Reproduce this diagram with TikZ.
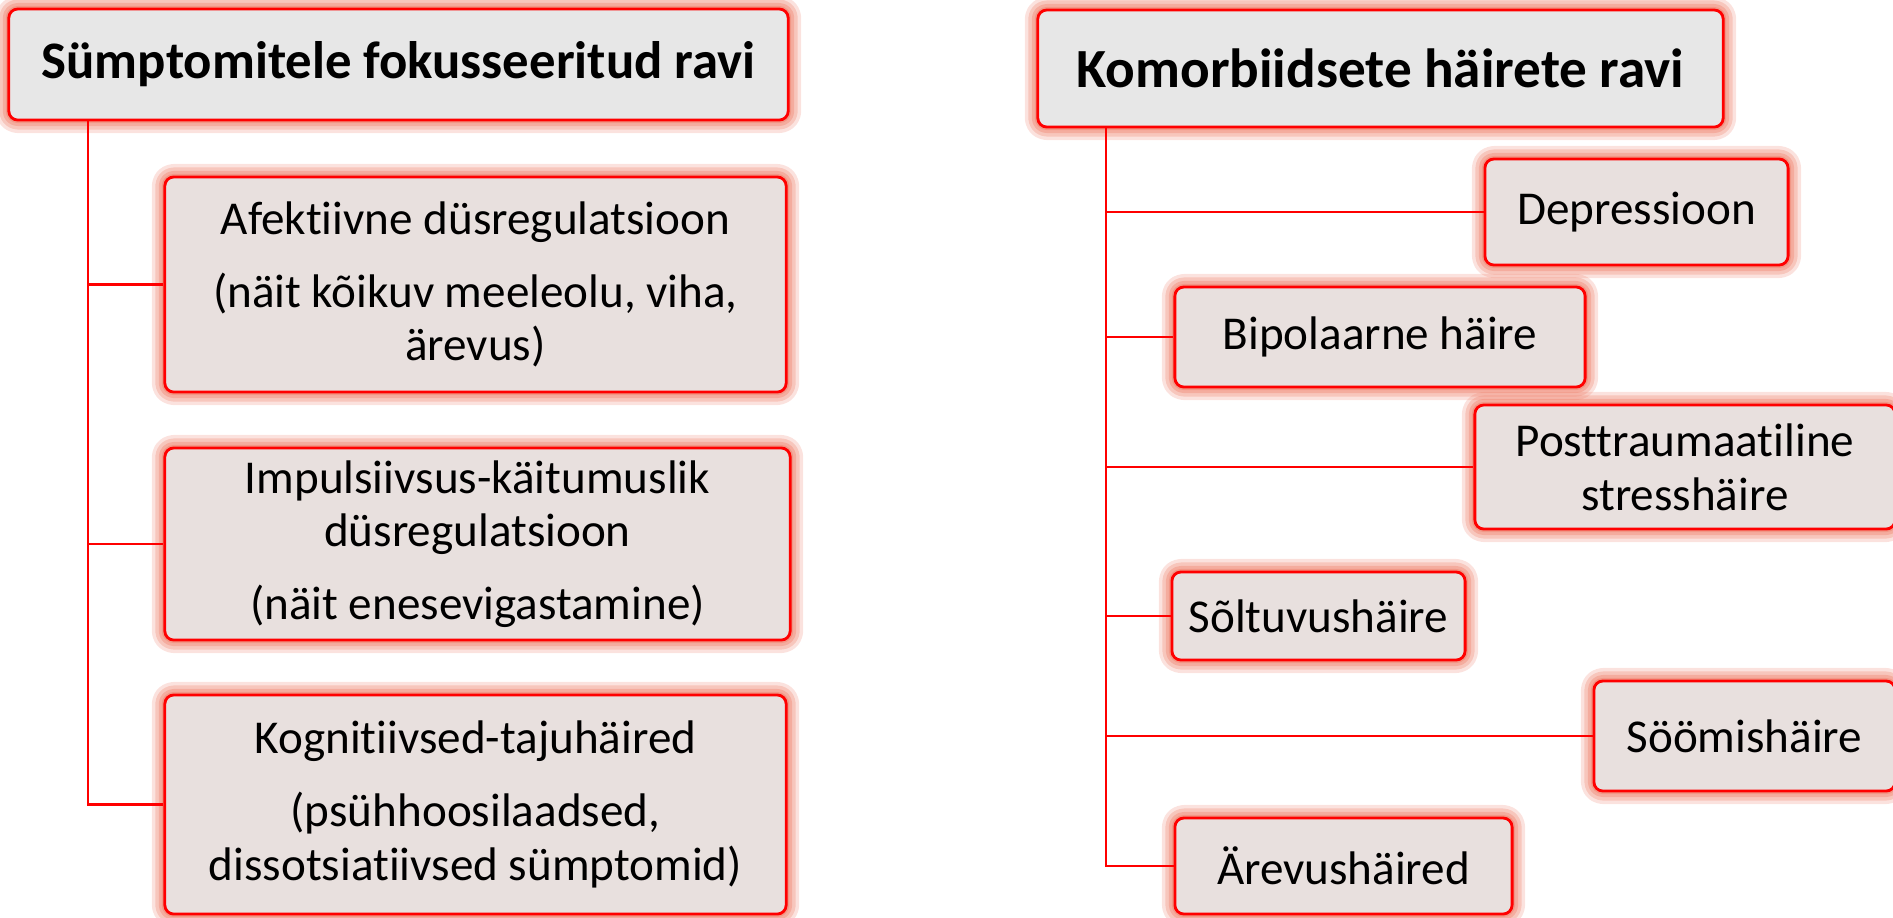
\documentclass[tikz,border=0pt]{standalone}
\usepackage{fontspec}
\setmainfont{Carlito}[Ligatures={NoCommon,NoContextual}]
\definecolor{bord}{RGB}{255,0,0}
\definecolor{glowc}{RGB}{236,112,88}
\definecolor{tfill}{RGB}{231,231,231}
\definecolor{cfill}{RGB}{232,224,222}
\tikzset{
  glowbox/.style={rounded corners=0.09cm, draw=bord, line width=0.8pt, line join=round,
    preaction={draw=glowc, draw opacity=0.20, line width=0.26cm},
    preaction={draw=glowc, draw opacity=0.25, line width=0.19cm},
    preaction={draw=glowc, draw opacity=0.30, line width=0.12cm},
    preaction={draw=glowc, draw opacity=0.35, line width=0.06cm},
    inner sep=0pt, align=center, text=black},
  titlebox/.style={glowbox, fill=tfill, font=\fontsize{15}{18}\selectfont\bfseries},
  itembox/.style={glowbox, fill=cfill, font=\fontsize{13.4}{15.3}\selectfont},
  link/.style={draw=bord, line width=0.65pt},
}
\begin{document}
\begin{tikzpicture}[x=0.01cm, y=-0.01cm]
\useasboundingbox (0,0) rectangle (1893,917);
% left column
\node[titlebox, minimum width=7.79cm, minimum height=1.11cm] (LT) at (398.5,64.5) {Sümptomitele fokusseeritud ravi};
\node[itembox, minimum width=6.21cm, minimum height=2.15cm] (L1) at (475.5,284.5)
  {Afektiivne düsregulatsioon\\[5.4pt](näit kõikuv meeleolu, viha,\\ärevus)};
\node[itembox, minimum width=6.25cm, minimum height=1.92cm] (L2) at (477.5,544)
  {Impulsiivsus-käitumuslik\\düsregulatsioon\\[5.4pt](näit enesevigastamine)};
\node[itembox, minimum width=6.21cm, minimum height=2.19cm] (L3) at (475.5,804.5)
  {Kognitiivsed-tajuhäired\\[5.4pt](psühhoosilaadsed,\\dissotsiatiivsed sümptomid)};
\coordinate (ltop) at (88,120);
\draw[link] (ltop) |- (L3.west);
\draw[link] (L1.west -| ltop) -- (L1.west);
\draw[link] (L2.west -| ltop) -- (L2.west);
% right column
\node[titlebox, font=\fontsize{15.7}{18}\selectfont\bfseries, minimum width=6.85cm, minimum height=1.17cm] (RT) at (1380.5,68.5) {Komorbiidsete häirete ravi};
\node[itembox, minimum width=3.03cm, minimum height=1.06cm] (R1) at (1636.5,212) {Depressioon};
\node[itembox, minimum width=4.10cm, minimum height=1.00cm] (R2) at (1380,337) {Bipolaarne häire};
\node[itembox, minimum width=4.20cm, minimum height=1.24cm] (R3) at (1685,467) {Posttraumaatiline\\stresshäire};
\node[itembox, minimum width=2.93cm, minimum height=0.88cm] (R4) at (1318.5,616) {Sõltuvushäire};
\node[itembox, minimum width=3.01cm, minimum height=1.10cm] (R5) at (1744.5,736) {Söömishäire};
\node[itembox, minimum width=3.37cm, minimum height=0.96cm] (R6) at (1343.5,866) {Ärevushäired};
\coordinate (rtop) at (1106,127);
\draw[link] (rtop) |- (R6.west);
\foreach \n in {R1,R2,R3,R4,R5} {\draw[link] (\n.west -| rtop) -- (\n.west);}
\end{tikzpicture}
\end{document}
